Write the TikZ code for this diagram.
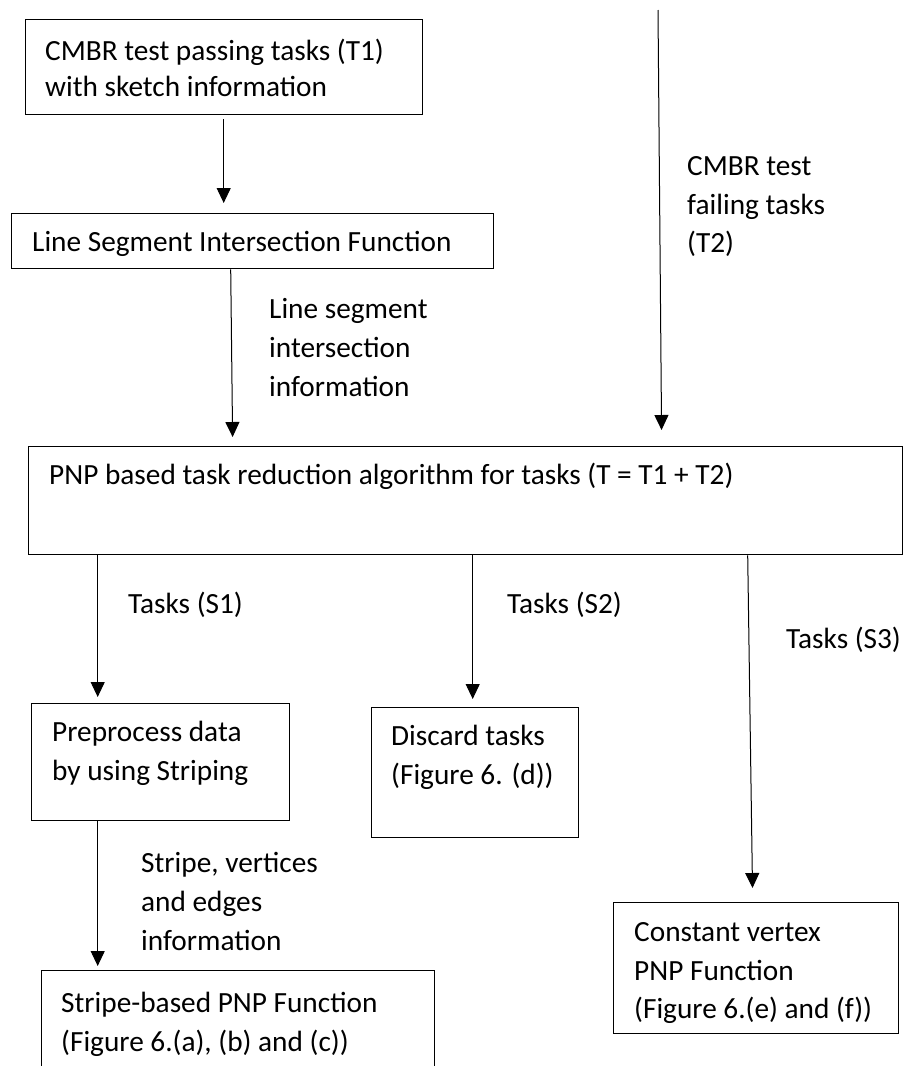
\documentclass[tikz,border=0pt]{standalone}
\usepackage{fontspec}
\setmainfont{Carlito}
\usetikzlibrary{arrows.meta}
\begin{document}
\begin{tikzpicture}[x=1pt,y=-1pt,
  box/.style={draw=black, line width=1.4pt, rectangle, inner sep=0pt, anchor=north west},
  lbl/.style={anchor=base west, inner sep=0pt, font=\fontsize{29.3}{38.6}\selectfont},
  arr/.style={draw=black, line width=1pt, -{Triangle[length=15pt,width=14pt]}},
  plain/.style={draw=black, line width=1pt}]
\useasboundingbox (0,0) rectangle (904,1066);
% boxes
\node[box, minimum width=397pt, minimum height=95pt] (b1) at (25,19) {};
\node[box, minimum width=482pt, minimum height=55pt] (b2) at (11,213) {};
\node[box, minimum width=874pt, minimum height=108pt] (bb) at (28,446) {};
\node[box, minimum width=258pt, minimum height=117pt] (pp) at (31,703) {};
\node[box, minimum width=207pt, minimum height=130pt] (dc) at (371,707) {};
\node[box, minimum width=393pt, minimum height=110pt] (sb) at (41,970) {};
\node[box, minimum width=285pt, minimum height=131pt] (cv) at (613,902) {};
% texts in boxes
\node[lbl] (b1a) at (45,60) {CMBR test passing tasks (T1)};
\node[lbl] (b1b) at (45,96) {with sketch information};
\node[lbl] (b2a) at (32,251) {Line Segment Intersection Function};
\node[lbl] (bba) at (49,484) {PNP based task reduction algorithm for tasks (T = T1 + T2)};
\node[lbl] (ppa) at (52,741) {Preprocess data};
\node[lbl] (ppb) at (52,780) {by using Striping};
\node[lbl] (dca) at (391,745) {Discard tasks};
\node[lbl] (dcb) at (391,784) {(Figure 6. (d))};
\node[lbl] (sba) at (61,1012) {Stripe-based PNP Function};
\node[lbl] (sbb) at (61,1051) {(Figure 6.(a), (b) and (c))};
\node[lbl] (cva) at (634,941) {Constant vertex};
\node[lbl] (cvb) at (634,980) {PNP Function};
\node[lbl] (cvc) at (634,1018) {(Figure 6.(e) and (f))};
% connector labels
\node[lbl] (lsa) at (269,318) {Line segment};
\node[lbl] (lsb) at (269,357) {intersection};
\node[lbl] (lsc) at (269,396) {information};
\node[lbl] (t2a) at (687,175) {CMBR test};
\node[lbl] (t2b) at (687,214) {failing tasks};
\node[lbl] (t2c) at (687,252) {(T2)};
\node[lbl] (s1) at (128,613) {Tasks (S1)};
\node[lbl] (s2) at (507,613) {Tasks (S2)};
\node[lbl] (s3) at (786,648) {Tasks (S3)};
\node[lbl] (sva) at (141,872) {Stripe, vertices};
\node[lbl] (svb) at (141,911) {and edges};
\node[lbl] (svc) at (141,950) {information};
% connectors
\coordinate (t2top) at (658,10);
\draw[arr, shorten <=4pt, shorten >=10pt] ([xshift=-0.5pt]b1.south) -- ([xshift=-0.5pt]b1.south |- b2.north);
\draw[arr, shorten >=9pt] ([xshift=-22pt]b2.south) -- ([xshift=-233pt]bb.north);
\draw[arr, shorten >=16pt] (t2top) -- ([xshift=196pt]bb.north);
\draw[arr, shorten >=6pt] ([xshift=-368pt]bb.south) -- ([xshift=-63pt]pp.north);
\draw[arr, shorten >=8pt] ([xshift=7pt]bb.south) -- ([xshift=-2.5pt]dc.north);
\draw[arr, shorten >=14pt] ([xshift=282pt]bb.south) -- ([xshift=-3.5pt]cv.north);
\draw[arr, shorten >=4pt] ([xshift=-63pt]pp.south) -- ([xshift=-140.5pt]sb.north);
\end{tikzpicture}
\end{document}
